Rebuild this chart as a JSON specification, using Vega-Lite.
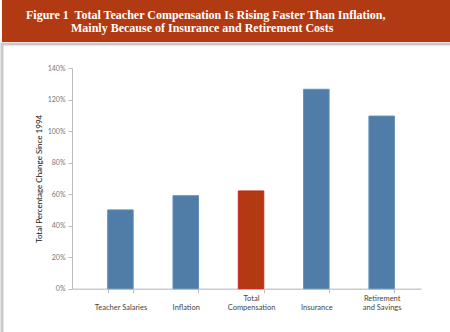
{
  "$schema": "https://vega.github.io/schema/vega-lite/v6.json",
  "padding": 0,
  "spacing": 0,
  "background": "white",
  "config": {"concat": {"spacing": 0}},
  "vconcat": [
    {
      "width": 450,
      "height": 42,
      "view": {"fill": "#B23A12", "stroke": null},
      "data": {"values": [{"t": ""}]},
      "mark": {"type": "text"},
      "encoding": {"text": {"field": "t"}},
      "title": {
        "text": [
          "Figure 1\u00a0 Total Teacher Compensation Is Rising Faster Than Inflation,",
          "\u200b\u00a0\u00a0\u00a0\u00a0\u00a0\u00a0\u00a0\u00a0\u00a0\u00a0\u00a0\u00a0\u00a0\u00a0 Mainly Because of Insurance and Retirement Costs"
        ],
        "anchor": "start",
        "frame": "group",
        "orient": "top",
        "baseline": "top",
        "offset": -35,
        "dx": 24,
        "font": "Liberation Serif",
        "fontWeight": "bold",
        "fontSize": 12,
        "lineHeight": 13,
        "color": "white"
      }
    },
    {
      "width": 450,
      "height": 290,
      "view": {"fill": "white", "stroke": "#c9c9c9", "strokeWidth": 3},
      "data": {
        "values": [
          {"category": "Teacher Salaries", "change": 0.50, "kind": "component"},
          {"category": "Inflation", "change": 0.59, "kind": "component"},
          {"category": "Total Compensation", "change": 0.62, "kind": "total"},
          {"category": "Insurance", "change": 1.265, "kind": "component"},
          {"category": "Retirement and Savings", "change": 1.095, "kind": "component"}
        ]
      },
      "mark": {"type": "bar", "strokeWidth": 1},
      "encoding": {
        "x": {
          "field": "category",
          "type": "nominal",
          "sort": null,
          "scale": {"range": [70, 419], "paddingInner": 0.61, "paddingOuter": 0.477, "align": 0.573},
          "axis": {
            "title": null,
            "offset": -45.3,
            "labelAngle": 0,
            "labelFont": "Lato",
            "labelFontSize": 7.5,
            "labelColor": "#444444",
            "labelLineHeight": 9,
            "labelPadding": 2,
            "labelBaseline": "top",
            "labelExpr": "datum.value == 'Total Compensation' ? ['Total', 'Compensation'] : datum.value == 'Retirement and Savings' ? ['Retirement', 'and Savings'] : ['', datum.value]",
            "domainColor": "#cccccc",
            "domainWidth": 1.5,
            "tickColor": "#bbbbbb",
            "tickSize": 4,
            "tickBand": "extent"
          }
        },
        "y": {
          "field": "change",
          "type": "quantitative",
          "scale": {"domain": [0, 1.4], "range": [244.7, 24], "nice": false},
          "axis": {
            "title": "Total Percentage Change Since 1994",
            "titleFont": "Lato",
            "titleFontSize": 8,
            "titleFontWeight": "normal",
            "titleColor": "#111111",
            "titlePadding": 4,
            "offset": -70,
            "values": [0, 0.2, 0.4, 0.6, 0.8, 1.0, 1.2, 1.4],
            "format": ".0%",
            "grid": false,
            "labelFont": "Lato",
            "labelFontSize": 7,
            "labelColor": "#777777",
            "labelPadding": 3,
            "domainColor": "#bbbbbb",
            "tickColor": "#bbbbbb",
            "tickSize": 4
          }
        },
        "color": {
          "field": "kind",
          "type": "nominal",
          "scale": {"domain": ["component", "total"], "range": ["#4F7DA8", "#B33A10"]},
          "legend": null
        },
        "stroke": {
          "field": "kind",
          "type": "nominal",
          "scale": {"domain": ["component", "total"], "range": ["#5F8DB8", "#C8231A"]},
          "legend": null
        }
      }
    }
  ]
}
